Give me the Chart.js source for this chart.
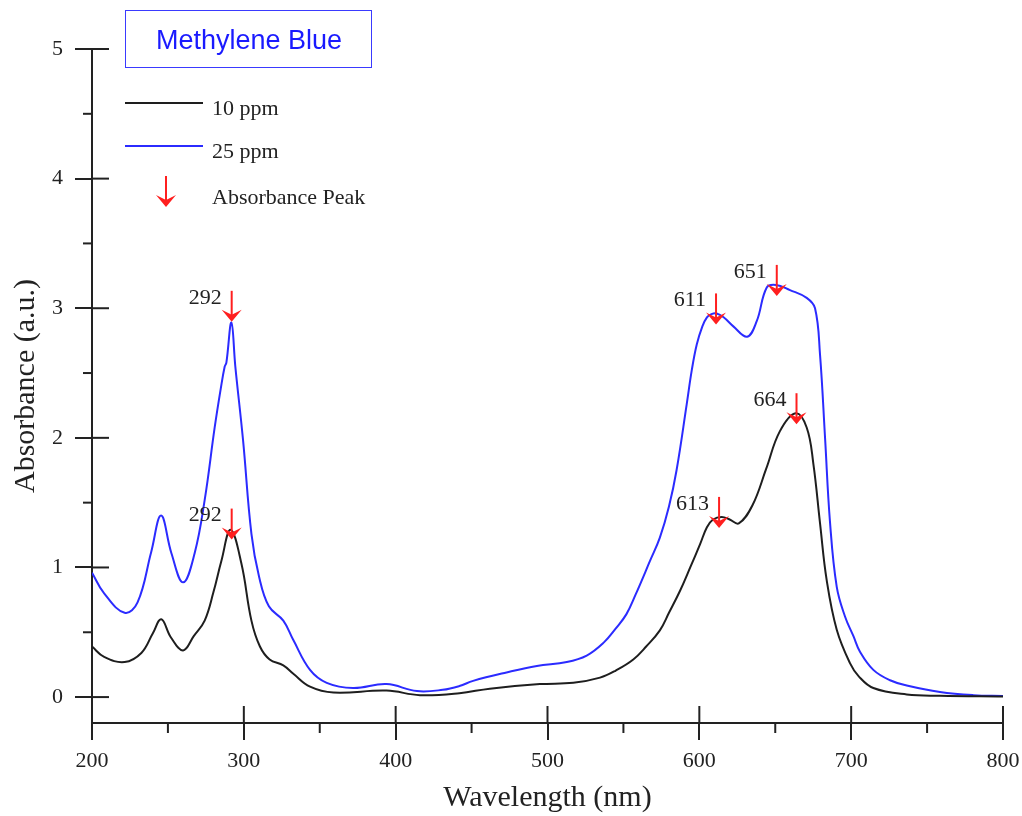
<!DOCTYPE html>
<html>
<head>
<meta charset="utf-8">
<script src="https://cdn.jsdelivr.net/npm/chart.js@4.4.1/dist/chart.umd.min.js"></script>
<style>
  html, body { margin: 0; padding: 0; background: #fff; }
  #wrap { width: 1022px; height: 816px; }
</style>
</head>
<body>
<div id="wrap"><canvas id="chart" width="1022" height="816"></canvas></div>
<script>
// wavelength (nm) / absorbance
const wl10 = [200, 208, 221.5, 232.5, 240, 245.6, 252, 260, 267, 274.2, 280, 285.2, 291.3, 298.4, 305, 310.6, 317, 326, 332.6, 343.6, 359, 394, 416, 442, 462, 495, 517, 534.6, 545, 556.5, 565, 574, 580, 587.3, 594, 600.5, 605, 609, 614.7, 620, 626, 635, 644, 653, 663.5, 670.7, 675.1, 679.5, 683.9, 690.5, 699.3, 705, 714.6, 736.6, 758.5, 800];
const abs10 = [0.39, 0.31, 0.27, 0.34, 0.49, 0.60, 0.46, 0.36, 0.47, 0.59, 0.81, 1.05, 1.29, 1.03, 0.59, 0.39, 0.29, 0.245, 0.18, 0.08, 0.035, 0.05, 0.015, 0.03, 0.065, 0.10, 0.11, 0.15, 0.205, 0.29, 0.39, 0.515, 0.65, 0.82, 1.00, 1.18, 1.31, 1.37, 1.39, 1.37, 1.34, 1.48, 1.76, 2.05, 2.19, 2.08, 1.80, 1.34, 0.90, 0.52, 0.26, 0.16, 0.07, 0.02, 0.01, 0.005];

const wl25 = [200, 208, 221.5, 230, 239, 245.5, 252.3, 260, 267.6, 274.2, 280.8, 284.8, 287.4, 288.5, 291.8, 294.4, 299.5, 305, 310, 316.5, 326, 332.6, 343.6, 354.6, 372, 394, 414, 431, 442, 451, 473, 493, 512.7, 525.8, 537, 545, 552, 558, 567.5, 574, 580, 585, 591.7, 595, 598.3, 602, 605, 608, 611.4, 616, 622.4, 631.5, 637.8, 644.4, 650.5, 659.7, 670.7, 676.2, 679.5, 682.8, 686, 690.5, 696, 701.5, 705.8, 714.6, 725.6, 736.6, 758.5, 780.5, 800];
const abs25 = [0.96, 0.80, 0.65, 0.73, 1.12, 1.40, 1.11, 0.885, 1.11, 1.52, 2.08, 2.38, 2.55, 2.58, 2.89, 2.55, 1.98, 1.26, 0.93, 0.70, 0.59, 0.44, 0.21, 0.11, 0.07, 0.10, 0.046, 0.056, 0.085, 0.125, 0.19, 0.24, 0.27, 0.32, 0.42, 0.53, 0.64, 0.79, 1.05, 1.23, 1.47, 1.75, 2.26, 2.52, 2.72, 2.86, 2.93, 2.955, 2.96, 2.93, 2.86, 2.78, 2.90, 3.16, 3.18, 3.14, 3.08, 3.00, 2.64, 2.00, 1.36, 0.85, 0.62, 0.47, 0.35, 0.21, 0.13, 0.09, 0.04, 0.015, 0.008];

const seriesNames = ['10 ppm', '25 ppm'];
const seriesColors = ['#1e1e1e', '#2b2bff'];

// marked absorbance peaks
const peakWl = [292, 292, 611, 651, 613, 664];
const peakAbs = [2.98, 1.30, 2.96, 3.18, 1.39, 2.19];
const peakText = ['292', '292', '611', '651', '613', '664'];

const xTicks = [200, 300, 400, 500, 600, 700, 800];
const xMinor = [250, 350, 450, 550, 650, 750];
const yTicks = [0, 1, 2, 3, 4, 5];
const yMinor = [0.5, 1.5, 2.5, 3.5, 4.5];

const serif = "'Liberation Serif', 'Times New Roman', serif";
const axisColor = '#222';
const red = '#ff1f1f';

function drawArrow(ctx, x, top, tip) {
    ctx.save();
    ctx.strokeStyle = red;
    ctx.fillStyle = red;
    ctx.lineWidth = 2;
    ctx.beginPath();
    ctx.moveTo(x, top);
    ctx.lineTo(x, tip - 5);
    ctx.stroke();
    ctx.beginPath();
    ctx.moveTo(x, tip);
    ctx.lineTo(x - 10, tip - 12);
    ctx.lineTo(x, tip - 7);
    ctx.lineTo(x + 10, tip - 12);
    ctx.closePath();
    ctx.fill();
    ctx.restore();
}

const extras = {
    id: 'extras',
    afterDatasetsDraw(chart) {
        const ctx = chart.ctx;
        const xs = chart.scales.x;
        const ys = chart.scales.y;
        const area = chart.chartArea;

        ctx.save();
        ctx.strokeStyle = axisColor;
        ctx.lineWidth = 2;
        // major ticks reach into the plot as well
        xTicks.forEach(v => {
            const px = xs.getPixelForValue(v);
            ctx.beginPath();
            ctx.moveTo(px, area.bottom);
            ctx.lineTo(px, area.bottom - 17);
            ctx.stroke();
        });
        yTicks.forEach(v => {
            const py = ys.getPixelForValue(v);
            ctx.beginPath();
            ctx.moveTo(area.left, py);
            ctx.lineTo(area.left + 17, py);
            ctx.stroke();
        });
        // minor ticks, outside only
        xMinor.forEach(v => {
            const px = xs.getPixelForValue(v);
            ctx.beginPath();
            ctx.moveTo(px, area.bottom);
            ctx.lineTo(px, area.bottom + 10);
            ctx.stroke();
        });
        yMinor.forEach(v => {
            const py = ys.getPixelForValue(v);
            ctx.beginPath();
            ctx.moveTo(area.left - 9, py);
            ctx.lineTo(area.left, py);
            ctx.stroke();
        });
        ctx.restore();

        // peak arrows + labels
        ctx.save();
        ctx.font = '22px ' + serif;
        ctx.fillStyle = '#222';
        ctx.textAlign = 'right';
        ctx.textBaseline = 'middle';
        peakWl.forEach((w, i) => {
            const px = xs.getPixelForValue(w);
            const py = ys.getPixelForValue(peakAbs[i]);
            drawArrow(ctx, px, py - 20, py + 11);
            ctx.fillText(peakText[i], px - 10, py - 13);
        });
        ctx.restore();

        // title box
        ctx.save();
        ctx.strokeStyle = '#3a3aff';
        ctx.lineWidth = 1;
        ctx.strokeRect(125.5, 10.5, 246, 57);
        ctx.fillStyle = '#1a1aff';
        ctx.font = "27px 'Liberation Sans', Arial, sans-serif";
        ctx.textAlign = 'center';
        ctx.textBaseline = 'middle';
        ctx.fillText('Methylene Blue', 249, 42);
        ctx.restore();

        // legend
        ctx.save();
        ctx.lineWidth = 2;
        ctx.font = '22px ' + serif;
        ctx.fillStyle = '#222';
        ctx.textBaseline = 'middle';
        ctx.textAlign = 'left';
        [103, 146].forEach((ly, i) => {
            ctx.strokeStyle = seriesColors[i];
            ctx.beginPath();
            ctx.moveTo(125, ly);
            ctx.lineTo(203, ly);
            ctx.stroke();
            ctx.fillText(seriesNames[i], 212, ly + 6);
        });
        drawArrow(ctx, 166, 176, 207);
        ctx.fillText('Absorbance Peak', 212, 198);
        ctx.restore();
    }
};

const ctx = document.getElementById('chart').getContext('2d');
new Chart(ctx, {
    type: 'scatter',
    data: {
        datasets: [
            {
                label: seriesNames[0],
                data: wl10.map((x, i) => ({ x: x, y: abs10[i] })),
                borderColor: seriesColors[0],
                borderWidth: 2,
                pointRadius: 0,
                showLine: true,
                tension: 0.4
            },
            {
                label: seriesNames[1],
                data: wl25.map((x, i) => ({ x: x, y: abs25[i] })),
                borderColor: seriesColors[1],
                borderWidth: 2,
                pointRadius: 0,
                showLine: true,
                tension: 0.4
            }
        ]
    },
    options: {
        responsive: false,
        animation: false,
        layout: { padding: { top: 49, right: 19, left: 0, bottom: 0 } },
        plugins: {
            legend: { display: false },
            tooltip: { enabled: false }
        },
        scales: {
            x: {
                type: 'linear',
                min: 200,
                max: 800,
                afterBuildTicks: s => { s.ticks = xTicks.map(v => ({ value: v })); },
                afterFit: s => { s.height = 93; s.paddingLeft = 0; s.paddingRight = 0; },
                border: { color: axisColor, width: 2 },
                grid: { drawOnChartArea: false, color: axisColor, lineWidth: 2, tickLength: 17 },
                ticks: { color: '#222', font: { family: serif, size: 22 }, padding: 8, maxRotation: 0 },
                title: { display: true, text: 'Wavelength (nm)', color: '#222', font: { family: serif, size: 30 }, padding: { top: 2, bottom: 0 } }
            },
            y: {
                type: 'linear',
                min: -0.2,
                max: 5,
                afterBuildTicks: s => { s.ticks = yTicks.map(v => ({ value: v })); },
                afterFit: s => { s.width = 92; },
                border: { color: axisColor, width: 2 },
                grid: { drawOnChartArea: false, color: axisColor, lineWidth: 2, tickLength: 17 },
                ticks: { color: '#222', font: { family: serif, size: 22 }, padding: 12 },
                title: { display: true, text: 'Absorbance (a.u.)', color: '#222', font: { family: serif, size: 30 }, padding: { top: 8, bottom: 0 } }
            }
        }
    },
    plugins: [extras]
});
</script>
</body>
</html>
